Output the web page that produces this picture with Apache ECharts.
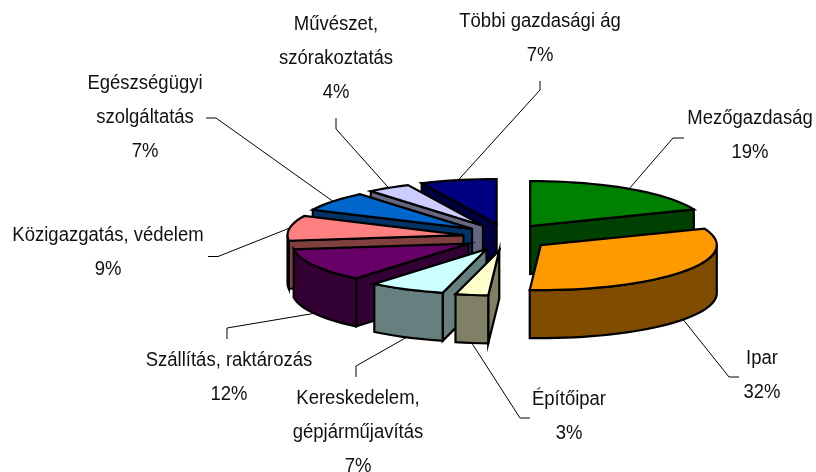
<!DOCTYPE html>
<html><head><meta charset="utf-8">
<style>html,body{margin:0;padding:0;background:#fff}#c{width:816px;height:472px}</style>
<script src="https://cdn.jsdelivr.net/npm/echarts@6/dist/echarts.min.js"></script>
</head><body><div id="c"></div>
<script>
const categories = ['Mezőgazdaság','Ipar','Építőipar','Kereskedelem, gépjárműjavítás','Szállítás, raktározás','Közigazgatás, védelem','Egészségügyi szolgáltatás','Művészet, szórakoztatás','Többi gazdasági ág'];
const values = [19,32,3,7,12,9,7,4,7];
const labelLines = [['Mezőgazdaság'],['Ipar'],['Építőipar'],['Kereskedelem,','gépjárműjavítás'],['Szállítás, raktározás'],['Közigazgatás, védelem'],['Egészségügyi','szolgáltatás'],['Művészet,','szórakoztatás'],['Többi gazdasági ág']];
const topColors = ['#008000','#FF9900','#FFFFCC','#CCFFFF','#660066','#FF8080','#0066CC','#CCCCFF','#000080'];
const wallColors = ['#004000','#804D00','#808066','#668080','#330033','#804040','#003366','#666680','#000040'];
const labelPos = [[750,118],[762,358],[569,399],[358,398],[229,360],[108,235],[145,83],[336,24],[540,21]];
const leaderElbows = [[[673,138],[684,138]],[[729,377],[739,377]],[[520,418],[530,418]],[[356,366],[356,377]],[[227,328],[227,339]],[[218,256.5],[208,256.5]],[[216,118],[206,118]],[[336,129],[336,118]],[[540,90],[540,81]]];

const cx=506, cy=237.2, rx=176, ry=45, ex=43, ey=13.5, h=48, lh=34;
const total = values.reduce((a,b)=>a+b,0);
const rad = d=>d*Math.PI/180;
let acc=0;
const slices = values.map((v,i)=>{const a0=acc/total*360; acc+=v; const a1=acc/total*360; const m=(a0+a1)/2;
  return {i,a0,a1,m,ax:cx+ex*Math.sin(rad(m)),ay:cy-ey*Math.cos(rad(m))};});
const rim=(s,a)=>[s.ax+rx*Math.sin(rad(a)),s.ay-ry*Math.cos(rad(a))];
const arc=(s,a,b)=>{const n=Math.max(2,Math.ceil((b-a)/3));const p=[];for(let k=0;k<=n;k++)p.push(rim(s,a+(b-a)*k/n));return p;};
const down=p=>[p[0],p[1]+h];
const order = slices.slice().sort((p,q)=>Math.cos(rad(q.m))-Math.cos(rad(p.m)));
const line={stroke:'#000',lineWidth:2.2,lineJoin:'miter'};

function renderSlice(params){
  const s=order[params.dataIndex], top=topColors[s.i], wall=wallColors[s.i], kids=[], A=[s.ax,s.ay];
  const poly=(pts,fill)=>kids.push({type:'polygon',shape:{points:pts},style:Object.assign({fill},line)});
  const radial=a=>{const e=rim(s,a);poly([A,e,down(e),down(A)],wall);};
  if(Math.sin(rad(s.a1))>0.001) radial(s.a1);
  if(Math.sin(rad(s.a0))<-0.001) radial(s.a0);
  const f0=Math.max(s.a0,90), f1=Math.min(s.a1,270);
  if(f1>f0){const t=arc(s,f0,f1);poly(t.concat(t.slice().reverse().map(down)),wall);}
  poly([A].concat(arc(s,s.a0,s.a1)),top);
  return {type:'group',children:kids};
}
function renderLabel(params){
  const i=params.dataIndex, s=slices[i], kids=[];
  const front=Math.cos(rad(s.m))<0, r=rim(s,s.m), st=front?down(r):r;
  kids.push({type:'polyline',shape:{points:[st].concat(leaderElbows[i])},style:{stroke:'#000',lineWidth:1,fill:null}});
  const lines=labelLines[i].concat([Math.round(values[i]/total*100)+'%']);
  lines.forEach((t,k)=>kids.push({type:'text',x:labelPos[i][0],y:labelPos[i][1]+k*lh,scaleY:1.12,style:{text:t,x:0,y:0,align:'center',verticalAlign:'middle',fill:'#111',font:'18.5px "Liberation Sans"'}}));
  return {type:'group',children:kids};
}
const chart=echarts.init(document.getElementById('c'),null,{width:816,height:472});
chart.setOption({animation:false,backgroundColor:'#fff',series:[
 {type:'custom',coordinateSystem:'none',silent:true,renderItem:renderSlice,data:order.map(s=>({name:categories[s.i],value:values[s.i]})),z:3},
 {type:'custom',coordinateSystem:'none',silent:true,renderItem:renderLabel,data:categories.map((n,i)=>({name:n,value:values[i]})),z:2}
]});
</script></body></html>
